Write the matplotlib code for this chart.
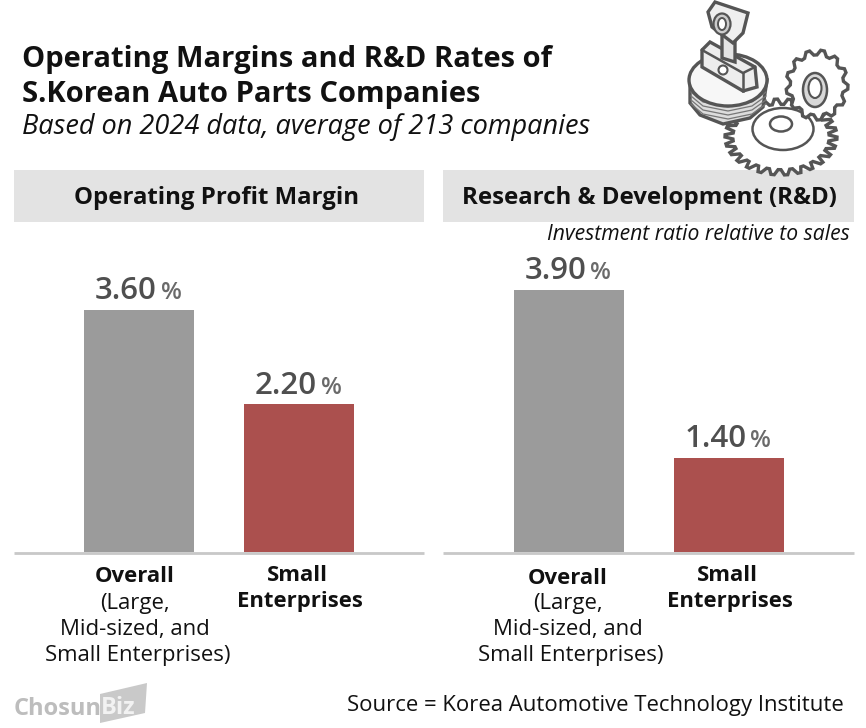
import matplotlib
matplotlib.use("Agg")
import matplotlib.pyplot as plt
from matplotlib.patches import Rectangle, Circle, Polygon, Ellipse
import numpy as np

W, H = 866, 728
plt.rcParams["font.family"] = ["Open Sans", "Noto Sans", "DejaVu Sans"]

title_lines = ["Operating Margins and R&D Rates of", "S.Korean Auto Parts Companies"]
subtitle = "Based on 2024 data, average of 213 companies"
panel_titles = ["Operating Profit Margin", "Research & Development (R&D)"]
note = "Investment ratio relative to sales"
margin_values = [3.60, 2.20]
rnd_values = [3.90, 1.40]
source = "Source = Korea Automotive Technology Institute"
GRAY = "#9b9b9b"
RED = "#ab504e"
INK = "#111111"
EDGE = "#555555"

fig = plt.figure(figsize=(W / 100, H / 100), dpi=100, facecolor="white")
bg = fig.add_axes([0, 0, 1, 1])
bg.set_xlim(0, W)
bg.set_ylim(H, 0)
bg.axis("off")


def panel(x0, x1, vals, centers):
    ax = fig.add_axes([x0 / W, 1 - 552 / H, (x1 - x0) / W, (552 - 240) / H])
    ax.set_xlim(x0, x1)
    ax.set_ylim(0, 312 / (242 / 3.6))
    ax.bar(centers, vals, width=110, color=[GRAY, RED])
    ax.axis("off")
    for c, v in zip(centers, vals):
        ax.annotate(f"{v:.2f}", (c, v), xytext=(-9.4, 7.6), textcoords="offset points",
                    ha="center", va="baseline", fontsize=22.5, fontweight="semibold",
                    color="#4f4f4f", annotation_clip=False)
        ax.annotate("%", (c, v), xytext=(23, 7.6), textcoords="offset points",
                    ha="center", va="baseline", fontsize=17.5, fontweight="semibold",
                    color="#6a6a6a", annotation_clip=False)
    bg.plot([x0, x1], [552.5, 552.5], color="#c8c8c8", lw=2, solid_capstyle="butt")


panel(14, 424, margin_values, [139, 299])
panel(443, 854, rnd_values, [568.5, 728.5])

for (x0, x1), off, t in zip([(14, 424), (443, 854)], [-2.5, 1], panel_titles):
    bg.add_patch(Rectangle((x0, 170), x1 - x0, 52, color="#e3e3e3", lw=0))
    bg.text((x0 + x1) / 2 + off, 198.5, t, ha="center", va="center", fontsize=17.3,
            fontweight="bold", color=INK)

bg.text(21.5, 59.5, title_lines[0], fontsize=21, fontweight="bold", va="center", color=INK)
bg.text(21.5, 94.5, title_lines[1], fontsize=21, fontweight="bold", va="center", color=INK)
bg.text(22, 127, subtitle, fontsize=19.5, style="italic", va="center", color=INK)
bg.text(850, 235, note, fontsize=15.2, style="italic", ha="right", va="center", color=INK)


def overall(cx, y):
    bg.text(cx, y, "Overall", fontsize=15.9, fontweight="bold", ha="center", va="center", color=INK)
    bg.text(cx, y + 26, "(Large,", fontsize=15.9, ha="center", va="center", color=INK)
    bg.text(cx, y + 52, "Mid-sized, and", fontsize=15.9, ha="center", va="center", color=INK)
    bg.text(cx + 3, y + 78, "Small Enterprises)", fontsize=15.9, ha="center", va="center", color=INK)


def small(cx, y):
    bg.text(cx - 3, y, "Small", fontsize=15.9, fontweight="bold", ha="center", va="center", color=INK)
    bg.text(cx, y + 26, "Enterprises", fontsize=15.9, fontweight="bold", ha="center", va="center", color=INK)


overall(135, 577)
small(300, 575.5)
overall(568, 578)
small(730, 575.5)

bg.text(844, 706, source, fontsize=15.9, ha="right", va="center", color=INK)

# logo
bg.add_patch(Polygon([(100, 694), (147, 683), (145, 713), (100, 723)], color="#c9c9c9", lw=0))
bg.text(14, 709, "Chosun", fontsize=17, fontweight="bold", color="#bdbdbd", va="center")
bg.text(101, 708, "Biz", fontsize=17, fontweight="bold", color="#f2f2f2", va="center")


# illustration
def gear(cx, cy, r, n, ry, z, fc="white"):
    a = np.linspace(0, 2 * np.pi, n * 4, endpoint=False)
    rad = np.where(np.arange(n * 4) % 4 < 2, 1.0, 0.86)
    bg.add_patch(Polygon(np.c_[cx + r * rad * np.cos(a), cy + ry * rad * np.sin(a)],
                         fc=fc, ec=EDGE, lw=2.4, zorder=z))


gear(781, 137, 56, 26, 38, 1.5)
bg.add_patch(Ellipse((783, 129), 61, 42, fc="white", ec=EDGE, lw=1.8, zorder=1.6))
bg.add_patch(Ellipse((781, 124), 22, 15, fc="white", ec=EDGE, lw=1.8, zorder=1.7))
bg.add_patch(Polygon([(690, 80), (690, 103), (700, 115), (723, 124), (750, 118), (763, 107), (767, 80)],
                     fc="#dddddd", ec=EDGE, lw=2.4, zorder=2))
for dy in range(0, 20, 4):
    bg.plot([691, 703, 728, 752, 766], np.array([88, 98, 103, 98, 88]) + dy,
            color="#777777", lw=0.9, zorder=2.1)
bg.add_patch(Ellipse((728, 80), 78, 52, fc="#f7f7f7", ec=EDGE, lw=2.4, zorder=2.2))
bg.add_patch(Polygon([(702, 50), (710, 42), (755, 67), (757, 87), (743, 91), (702, 67)],
                     fc="#ededed", ec=EDGE, lw=2.4, zorder=2.5))
bg.plot([702, 743, 755], [50, 73, 67], color=EDGE, lw=1.8, zorder=2.6)
bg.plot([743, 743], [73, 91], color=EDGE, lw=1.8, zorder=2.6)
bg.add_patch(Circle((723, 70), 4.5, fc="white", ec=EDGE, lw=1.5, zorder=2.7))
bg.add_patch(Polygon([(722, 30), (735, 32), (735, 62), (722, 58)], fc="#e4e4e4", ec=EDGE, lw=2.4, zorder=2.6))
bg.add_patch(Polygon([(708, 12), (715, 2), (748, 13), (743, 33), (733, 43), (712, 27)],
                     fc="#efefef", ec=EDGE, lw=2.4, zorder=2.8))
bg.add_patch(Ellipse((722, 24), 17, 21, fc="#cccccc", ec=EDGE, lw=1.6, zorder=2.9))
bg.add_patch(Ellipse((722, 24), 8, 12, fc="white", ec=EDGE, lw=1.4, zorder=3))
gear(817, 85, 31, 13, 35, 3.2)
bg.add_patch(Ellipse((815, 90), 24, 34, fc="#d8d8d8", ec=EDGE, lw=1.8, zorder=4))
bg.add_patch(Ellipse((815, 88), 13, 20, fc="white", ec=EDGE, lw=1.5, zorder=4))

fig.savefig("out.png", dpi=100)
